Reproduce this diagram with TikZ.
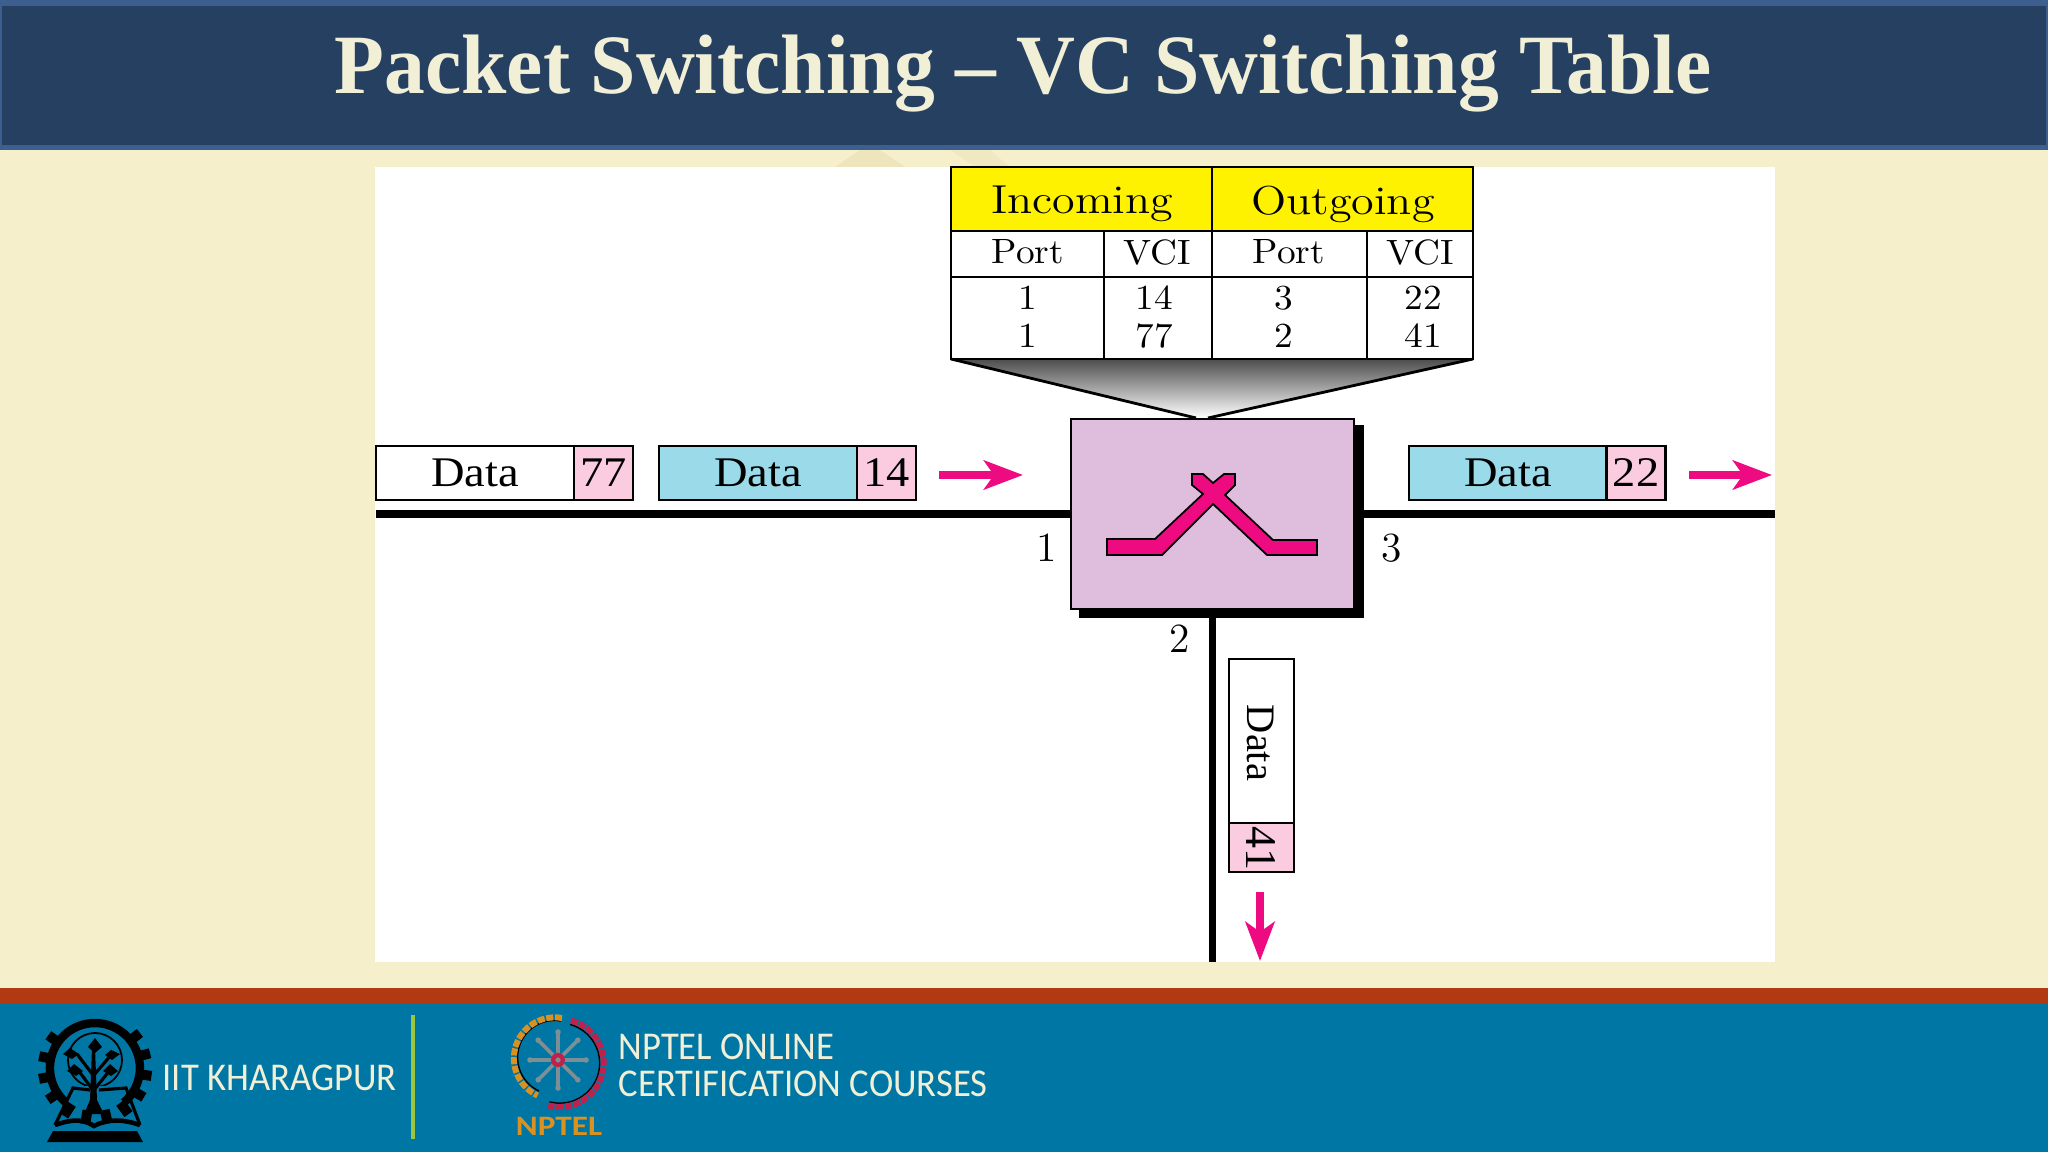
\documentclass[tikz,border=0pt]{standalone}
\usepackage{fontspec}
\usetikzlibrary{arrows.meta}
\newfontfamily\headfont{Liberation Serif}
\newfontfamily\datafont[FakeStretch=1.1]{Liberation Serif}
\newfontfamily\footfont{Carlito}
\definecolor{slidebg}{HTML}{F5EFCB}
\definecolor{barblue}{HTML}{254061}
\definecolor{barline}{HTML}{3C5F90}
\definecolor{footblue}{HTML}{0076A5}
\definecolor{footred}{HTML}{B23A12}
\definecolor{footcream}{HTML}{F1EFD6}
\definecolor{footgreen}{HTML}{9CC63F}
\definecolor{nptelorange}{HTML}{DB9120}
\definecolor{nptelred}{HTML}{C21F4B}
\definecolor{nptelgrey}{HTML}{7D8E95}
\definecolor{vcipink}{HTML}{FBCBE0}
\definecolor{datablue}{HTML}{9BDAE8}
\definecolor{switchpink}{HTML}{DFBDDD}
\definecolor{swmagenta}{HTML}{EE0A80}
\definecolor{wisptan}{HTML}{E2D5A4}
\tikzset{
  tblhead/.style={font=\fontsize{11.5}{12}\selectfont,xscale=1.14},
  tblcell/.style={font=\fontsize{10}{11}\selectfont,xscale=1.06},
  tblline/.style={line width=0.8pt},
  datacell/.style={draw=black,line width=0.7pt,inner sep=0pt,outer sep=0pt,minimum width=1.98cm,minimum height=0.54cm,font=\datafont\fontsize{12}{13}\selectfont},
  vcicell/.style={datacell,fill=vcipink,minimum width=0.59cm},
  link/.style={line width=2pt},
  pkarrow/.style={swmagenta,line width=2pt,-{Stealth[length=0.39cm,width=0.29cm,inset=0.1cm]}},
  portlabel/.style={font=\fontsize{11.8}{12}\selectfont,inner sep=0pt},
  footlabel/.style={text=footcream,font=\footfont\fontsize{11.2}{12}\selectfont,inner sep=0pt,anchor=west,xscale=0.93},
  leaf/.style={fill=black,line width=0pt}
}
\begin{document}
\begin{tikzpicture}[x=0.01cm,y=-0.01cm]
  \useasboundingbox (0,0) rectangle (2048,1152);
  % slide
  \fill[slidebg] (0,0) rectangle (2048,1152);
  \fill[wisptan,opacity=0.35] (835,167) -- (860,150) -- (880,150) -- (905,167) -- cycle;
  \fill[wisptan,opacity=0.25] (950,150) -- (990,150) -- (1010,167) -- (975,167) -- cycle;
  \fill[barline] (0,0) rectangle (2048,150);
  \fill[barblue] (2,6) rectangle (2046,145);
  \fill[footred] (0,988) rectangle (2048,1004);
  \fill[footblue] (0,1004) rectangle (2048,1152);
  \fill[white] (375,167) rectangle (1775,962);
  \node[text=footcream,font=\headfont\bfseries\fontsize{24}{26}\selectfont,xscale=0.966] (title) at (1023,74) {Packet Switching – VC Switching Table};
  % table
  \fill[yellow] (951,167) rectangle (1473,231);
  \fill[top color=black!70,bottom color=white] (951,359) -- (1473,359) -- (1208,418) -- (1196,418) -- cycle;
  \draw[tblline] (951,167) rectangle (1473,359);
  \draw[tblline] (951,231) -- (1473,231);
  \draw[tblline] (951,277) -- (1473,277);
  \draw[tblline] (1212,167) -- (1212,359);
  \draw[tblline] (1104,231) -- (1104,359);
  \draw[tblline] (1367,231) -- (1367,359);
  \draw[tblline] (951,359) -- (1196,418);
  \draw[tblline] (1473,359) -- (1208,418);
  \node[tblhead] (incoming) at (1082,204) {Incoming};
  \node[tblhead] (outgoing) at (1343,204) {Outgoing};
  \node[tblcell] (porta) at (1028,252) {Port};
  \node[tblcell] (vcia) at (1157,252) {VCI};
  \node[tblcell] (portb) at (1289,252) {Port};
  \node[tblcell] (vcib) at (1420,252) {VCI};
  \node[tblcell] (pa) at (1028,298) {1};
  \node[tblcell] (va) at (1154,298) {14};
  \node[tblcell] (qa) at (1284,298) {3};
  \node[tblcell] (wa) at (1423,298) {22};
  \node[tblcell] (pb) at (1028,336) {1};
  \node[tblcell] (vb) at (1154,336) {77};
  \node[tblcell] (qb) at (1284,336) {2};
  \node[tblcell] (wb) at (1423,336) {41};
  % links and switch
  \coordinate (linkw) at (376,514);
  \coordinate (linke) at (1775,514);
  \coordinate (links) at (1212.5,962);
  \node[draw=black,fill=switchpink,line width=0.7pt,minimum width=2.83cm,minimum height=1.9cm,inner sep=0pt,outer sep=0pt] (switchbox) at (1212.5,514) {};
  \draw[link] (linkw) -- (switchbox.west);
  \draw[link] (switchbox.east) -- (linke);
  \draw[link] (switchbox.south) -- (links);
  \fill[black] (1079,610) rectangle (1364,618);
  \fill[black] (1355,425) rectangle (1364,618);
  \filldraw[fill=swmagenta,draw=black,line width=0.5pt] (1107,539) -- (1155,539) -- (1203,494) -- (1192,485) -- (1192,474) -- (1203,474) -- (1213,483) -- (1224,474) -- (1235,474) -- (1235,485) -- (1225,495) -- (1273,540) -- (1317,540) -- (1317,555) -- (1267,555) -- (1213,504) -- (1162,555) -- (1107,555) -- cycle;
  \node[portlabel] (portw) at (1047,548) {1};
  \node[portlabel] (porte) at (1392,548) {3};
  \node[portlabel] (ports) at (1180,639) {2};
  % packets
  \node[datacell,fill=white] (dataa) at (475,473) {Data};
  \node[vcicell] (vciaa) at (603.5,473) {77};
  \node[datacell,fill=datablue] (datab) at (758,473) {Data};
  \node[vcicell] (vcibb) at (886.5,473) {14};
  \node[datacell,fill=datablue] (datac) at (1508,473) {Data};
  \node[vcicell] (vcicc) at (1636,473) {22};
  \node[datacell,fill=white,minimum width=0.65cm,minimum height=1.64cm] (datad) at (1261.5,741) {};
  \node[vcicell,minimum width=0.65cm,minimum height=0.49cm] (vcidd) at (1261.5,847.5) {};
  \node[rotate=-90,inner sep=0pt,font=\headfont\fontsize{11.5}{12}\selectfont] (datadt) at (1261,743) {Data};
  \node[rotate=-90,inner sep=0pt,font=\headfont\fontsize{12.5}{13}\selectfont] (vciddt) at (1261,848) {41};
  \coordinate (arwa) at (939,475);
  \coordinate (arwb) at (1023,475);
  \coordinate (arwc) at (1689,475);
  \coordinate (arwd) at (1772,475);
  \coordinate (arwe) at (1260,892);
  \coordinate (arwf) at (1260,961);
  \draw[pkarrow] (arwa) -- (arwb);
  \draw[pkarrow] (arwc) -- (arwd);
  \draw[pkarrow] (arwe) -- (arwf);
  % footer, IIT logo
  \foreach \a in {145,168,...,400}
    \fill[black,rotate around={\a:(95,1068)}] (138,1063) rectangle (152,1073);
  \draw[black,line width=2.4pt] (66,1102.5) arc (130:410:45);
  \draw[black,line width=0.5pt] (95,1060) circle (27);
  \fill[footblue] (72,1086) rectangle (118,1100);
  \fill[black] (92,1048) -- (95,1048) -- (97,1100) -- (104,1114) -- (84,1114) -- (90,1100) -- cycle;
  \draw[black,line width=0.9pt] (93,1090) -- (78,1070);
  \draw[black,line width=0.9pt] (94,1090) -- (110,1070);
  \draw[black,line width=0.9pt] (93,1075) -- (77,1054);
  \draw[black,line width=0.9pt] (94,1075) -- (111,1055);
  \fill[leaf] (95,1038) -- (102,1047) -- (95,1053) -- (88,1047) -- cycle;
  \fill[leaf] (70,1048) -- (79,1054) -- (72,1059) -- (63,1054) -- cycle;
  \fill[leaf] (111,1050) -- (120,1054) -- (112,1060) -- (105,1055) -- cycle;
  \fill[leaf] (74,1064) -- (83,1071) -- (76,1076) -- (67,1071) -- cycle;
  \fill[leaf] (110,1064) -- (118,1071) -- (111,1076) -- (103,1071) -- cycle;
  \draw[black,line width=0.9pt] (55,1125) -- (73,1088) -- (90,1090);
  \draw[black,line width=0.9pt] (140,1125) -- (126,1088) -- (99,1090);
  \draw[black,line width=1.3pt] (55,1125) .. controls (75,1118) and (85,1120) .. (94,1126) .. controls (105,1120) and (120,1118) .. (140,1125);
  \fill[black] (53,1131) -- (137,1131) -- (143,1142) -- (47,1142) -- cycle;
  \node[footlabel] (iit) at (162,1078) {IIT KHARAGPUR};
  \coordinate (septop) at (413,1015);
  \coordinate (sepbot) at (413,1139);
  \draw[footgreen,line width=1pt] (septop) -- (sepbot);
  % NPTEL logo
  \draw[black,line width=0.4pt] (561,1021) arc (280:115:37);
  \draw[nptelorange,line width=1.7pt,dash pattern=on 2pt off 0.5pt] (562,1018) arc (280:115:41);
  \draw[black,line width=0.4pt] (570,1024.5) arc (-75:105:40);
  \draw[nptelred,line width=1.7pt,dash pattern=on 2pt off 0.5pt] (571,1020.5) arc (-75:105:44);
  \foreach \a in {0,45,...,315} {
    \draw[nptelgrey,line width=1.1pt] (558,1060) -- ++(\a:27);
    \fill[nptelgrey] (558,1060) ++(\a:28) circle (2.8);
  }
  \draw[nptelred,line width=1.2pt] (558,1060) circle (5);
  \node[text=nptelorange,font=\footfont\bfseries\fontsize{8}{9}\selectfont,inner sep=0pt,xscale=1.18] (nptel) at (559,1126) {NPTEL};
  \node[footlabel] (online) at (618,1047) {NPTEL ONLINE};
  \node[footlabel] (courses) at (618,1084) {CERTIFICATION COURSES};
\end{tikzpicture}
\end{document}
